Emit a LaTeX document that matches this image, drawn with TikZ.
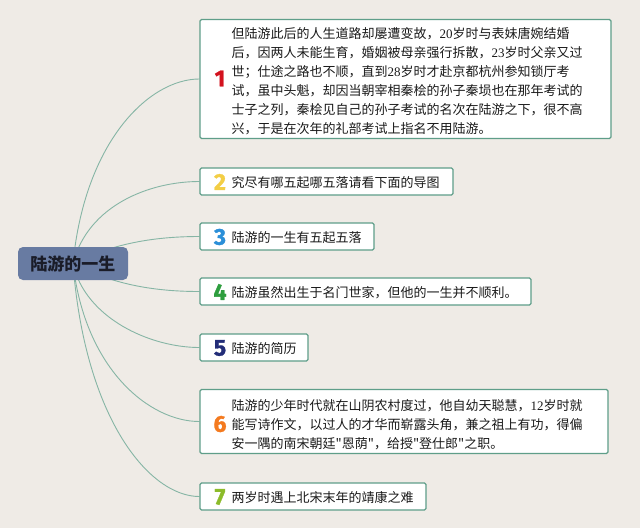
\documentclass[tikz,border=0pt]{standalone}
\usepackage{fontspec}
\newfontfamily\cjk{Noto Sans CJK SC}
\newfontfamily\numf[BoldFeatures={FakeBold=1.2}]{Fira Sans}
\newfontfamily\digf{Liberation Serif}
\newcommand\mydig[1]{{\digf #1}}
\usetikzlibrary{backgrounds}
\definecolor{bgc}{HTML}{EFEBE6}
\definecolor{boxline}{HTML}{5F9E89}
\definecolor{connc}{HTML}{86B5A5}
\definecolor{centfill}{HTML}{687BA2}
\definecolor{centtext}{HTML}{1A1C28}
\definecolor{txtc}{HTML}{1A1A1A}
\definecolor{c1}{HTML}{D3121E}
\definecolor{c2}{HTML}{F3CE45}
\definecolor{c3}{HTML}{2B8FD8}
\definecolor{c4}{HTML}{2E9E3E}
\definecolor{c5}{HTML}{232D78}
\definecolor{c6}{HTML}{F47A1F}
\definecolor{c7}{HTML}{8CBB2A}
\tikzset{
  box/.style={draw=boxline, line width=1.3pt, fill=white, rounded corners=1.5pt, inner sep=0pt},
  num/.style={font=\numf\bfseries\fontsize{23}{23}\selectfont, inner sep=0pt},
  txt/.style={font=\cjk\fontsize{13}{19}\selectfont, text=txtc, align=left, inner sep=0pt, anchor=west},
  central/.style={fill=centfill, rounded corners=5pt, minimum width=110pt, minimum height=33pt,
    font=\cjk\bfseries\fontsize{17}{17}\selectfont, text=centtext, inner sep=0pt},
  conn/.style={draw=connc, line width=0.9pt}
}
\begin{document}
\begin{tikzpicture}[x=1pt,y=-1pt]
\useasboundingbox (0,0) rectangle (640,528);

\node[central] (c) at (73,263.5) {陆游的一生};

\node[box, minimum width=411pt, minimum height=119pt] (b1) at (405.5,79) {};
\node[box, minimum width=253pt, minimum height=27pt] (b2) at (326.5,181.5) {};
\node[box, minimum width=174pt, minimum height=27pt] (b3) at (287,236.5) {};
\node[box, minimum width=331pt, minimum height=27pt] (b4) at (365.5,291.5) {};
\node[box, minimum width=108pt, minimum height=27pt] (b5) at (254,347.5) {};
\node[box, minimum width=408pt, minimum height=64pt] (b6) at (404,421.5) {};
\node[box, minimum width=226pt, minimum height=27pt] (b7) at (313,496.5) {};

\node[num, text=c1] (n1) at (220,78.5) {1};
\node[num, text=c2] (n2) at (220,182) {2};
\node[num, text=c3] (n3) at (220,237) {3};
\node[num, text=c4] (n4) at (220,292) {4};
\node[num, text=c5] (n5) at (220,348) {5};
\node[num, text=c6] (n6) at (220,424) {6};
\node[num, text=c7] (n7) at (220,497) {7};

\node[txt] (t1) at (231.5,81) {但陆游此后的人生道路却屡遭变故，\mydig{20}岁时与表妹唐婉结婚\\
后，因两人未能生育，婚姻被母亲强行拆散，\mydig{23}岁时父亲又过\\
世；仕途之路也不顺，直到\mydig{28}岁时才赴京都杭州参知锁厅考\\
试，虽中头魁，却因当朝宰相秦桧的孙子秦埙也在那年考试的\\
士子之列，秦桧见自己的孙子考试的名次在陆游之下，很不高\\
兴，于是在次年的礼部考试上指名不用陆游。};
\node[txt] (t2) at (231.5,182.5) {究尽有哪五起哪五落请看下面的导图};
\node[txt] (t3) at (231.5,237.5) {陆游的一生有五起五落};
\node[txt] (t4) at (231.5,292.5) {陆游虽然出生于名门世家，但他的一生并不顺利。};
\node[txt] (t5) at (231.5,348.5) {陆游的简历};
\node[txt] (t6) at (231.5,424.5) {陆游的少年时代就在山阴农村度过，他自幼天聪慧，\mydig{12}岁时就\\
能写诗作文，以过人的才华而崭露头角，兼之祖上有功，得偏\\
安一隅的南宋朝廷"恩荫"，给授"登仕郎"之职。};
\node[txt] (t7) at (231.5,497.5) {两岁时遇上北宋末年的靖康之难};

\begin{scope}[on background layer]
  \fill[bgc] (0,0) rectangle (640,528);
  \draw[conn] (c.center) .. controls (85,140) and (150,79) .. (b1.west);
  \draw[conn] (c.center) .. controls (88,205) and (150,181.5) .. (b2.west);
  \draw[conn] (c.center) .. controls (110,245) and (150,236.5) .. (b3.west);
  \draw[conn] (c.center) .. controls (110,283) and (150,291.5) .. (b4.west);
  \draw[conn] (c.center) .. controls (85,318) and (150,347.5) .. (b5.west);
  \draw[conn] (c.center) .. controls (85,370) and (150,421.5) .. (b6.west);
  \draw[conn] (c.center) .. controls (85,420) and (150,496.5) .. (b7.west);
\end{scope}
\end{tikzpicture}
\end{document}
